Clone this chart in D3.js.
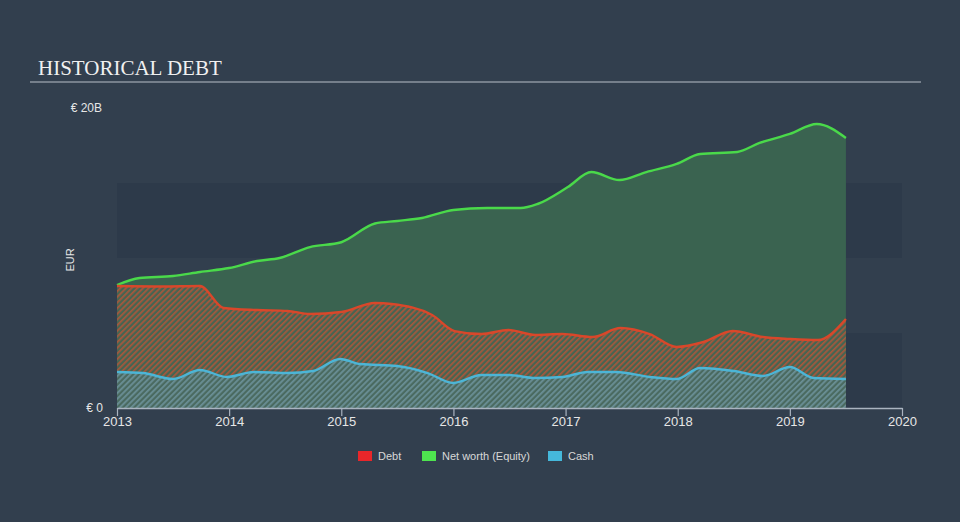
<!DOCTYPE html>
<html><head><meta charset="utf-8">
<script src="https://cdnjs.cloudflare.com/ajax/libs/d3/7.8.5/d3.min.js"></script>
<style>
html,body{margin:0;padding:0;background:#323f4e;}
svg{display:block;}
</style></head>
<body>
<svg id="chart" width="960" height="522"></svg>
<script>
// ---- data (EUR billions) ----
const equityDates = [2013.00,2013.20,2013.50,2013.74,2014.00,2014.25,2014.45,2014.72,2015.00,2015.30,2015.50,2015.72,2016.00,2016.30,2016.60,2016.75,2017.02,2017.23,2017.48,2017.72,2017.99,2018.20,2018.53,2018.73,2019.00,2019.24,2019.50];
const equityValues = [8.2,8.67,8.8,9.07,9.33,9.8,10.0,10.73,11.05,12.3,12.47,12.67,13.2,13.33,13.33,13.6,14.73,15.73,15.2,15.73,16.27,16.93,17.07,17.67,18.27,18.93,18.0];

const debtDates = [2013.00,2013.40,2013.74,2013.95,2014.25,2014.52,2014.72,2015.00,2015.30,2015.45,2015.81,2016.01,2016.25,2016.49,2016.73,2016.97,2017.24,2017.49,2017.75,2017.99,2018.23,2018.49,2018.76,2019.00,2019.25,2019.50];
const debtValues = [8.13,8.1,8.13,6.67,6.53,6.47,6.27,6.4,7.0,6.93,6.2,5.13,4.93,5.2,4.87,4.93,4.73,5.33,4.93,4.07,4.4,5.13,4.73,4.6,4.53,5.93];

const cashDates = [2013.00,2013.23,2013.50,2013.74,2013.98,2014.22,2014.52,2014.75,2014.99,2015.17,2015.50,2015.77,2016.00,2016.25,2016.49,2016.73,2016.97,2017.20,2017.45,2017.75,2017.99,2018.20,2018.50,2018.76,2019.00,2019.21,2019.50];
const cashValues = [2.4,2.33,1.93,2.53,2.07,2.4,2.33,2.47,3.27,2.93,2.8,2.33,1.67,2.2,2.2,2.0,2.07,2.4,2.4,2.07,1.93,2.67,2.47,2.13,2.73,2.0,1.93];

const xTickValues = [2013,2014,2015,2016,2017,2018,2019,2020];
const yBands = [[0,5],[10,15]];
const legendLabels = ["Debt","Net worth (Equity)","Cash"];
const legendColors = ["#e8262a","#4ee44f","#45b8db"];

// ---- layout ----
const svg = d3.select("#chart");
const x = d3.scaleLinear().domain([2013,2020]).range([117,902]);
const y = d3.scaleLinear().domain([0,20]).range([408,108]);

const defs = svg.append("defs");
const debtPat = defs.append("pattern").attr("id","hatchDebt")
  .attr("patternUnits","userSpaceOnUse").attr("width",4).attr("height",4)
  .attr("patternTransform","rotate(-45)");
debtPat.append("rect").attr("width",4).attr("height",4).attr("fill","#456552");
debtPat.append("rect").attr("width",4).attr("height",1.7).attr("fill","#a9573c");

const cashPat = defs.append("pattern").attr("id","hatchCash")
  .attr("patternUnits","userSpaceOnUse").attr("width",4).attr("height",4)
  .attr("patternTransform","rotate(-45)");
cashPat.append("rect").attr("width",4).attr("height",4).attr("fill","#4a6a60");
cashPat.append("rect").attr("width",4).attr("height",1.8).attr("fill","#6a8f96");

// bands
svg.append("g").selectAll("rect").data(yBands).join("rect")
  .attr("x",x(2013)).attr("width",x(2020)-x(2013))
  .attr("y",d=>y(d[1])).attr("height",d=>y(d[0])-y(d[1]))
  .attr("fill","#2d3a4a");

// title
svg.append("text").attr("x",38).attr("y",75)
  .attr("font-family","'Liberation Serif','DejaVu Serif',serif")
  .attr("font-size",21).attr("fill","#f0f0f0").text("HISTORICAL DEBT");
svg.append("line").attr("x1",30).attr("x2",921).attr("y1",82).attr("y2",82)
  .attr("stroke","#b8c0c8").attr("stroke-width",1.2);

const curve = d3.curveMonotoneX;
function series(dates, vals){ return dates.map((d,i)=>({d, v: vals[i]})); }
const eq = series(equityDates, equityValues);
const db = series(debtDates, debtValues);
const ca = series(cashDates, cashValues);

const area = d3.area().curve(curve).x(p=>x(p.d)).y0(y(0)).y1(p=>y(p.v));
const line = d3.line().curve(curve).x(p=>x(p.d)).y(p=>y(p.v));

svg.append("path").datum(eq).attr("d",area).attr("fill","#3a6350");
svg.append("path").datum(db).attr("d",area).attr("fill","url(#hatchDebt)");
svg.append("path").datum(ca).attr("d",area).attr("fill","url(#hatchCash)");

svg.append("path").datum(eq).attr("d",line).attr("fill","none").attr("stroke","#4ad94a").attr("stroke-width",2.4);
svg.append("path").datum(db).attr("d",line).attr("fill","none").attr("stroke","#d9472a").attr("stroke-width",2.4);
svg.append("path").datum(ca).attr("d",line).attr("fill","none").attr("stroke","#4cb5d6").attr("stroke-width",2.4);

// x axis
const xAxis = d3.axisBottom(x).tickValues(xTickValues).tickFormat(d3.format("d")).tickSize(8).tickSizeOuter(0);
const gx = svg.append("g").attr("transform",`translate(0,${y(0)})`).call(xAxis);
gx.select(".domain").attr("stroke","#aab4c0").attr("stroke-width",1.5);
gx.selectAll(".tick line").attr("stroke","#aab4c0").attr("stroke-width",1.2);
gx.selectAll(".tick text").attr("fill","#e6e6e6").attr("font-size",13)
  .attr("font-family","'Liberation Sans',Arial,sans-serif").attr("y",9).attr("dy","0.71em");

// y labels
const yLabels = [{v:20,t:"€ 20B"},{v:0,t:"€ 0"}];
svg.append("g").selectAll("text").data(yLabels).join("text")
  .attr("x",d=>d.v===20?102:103).attr("y",d=>y(d.v)).attr("dy","0.35em")
  .attr("text-anchor","end").attr("fill","#e6e6e6").attr("font-size",12)
  .attr("font-family","'Liberation Sans',Arial,sans-serif").text(d=>d.t);
svg.append("text").attr("transform","translate(74,260) rotate(-90)")
  .attr("text-anchor","middle").attr("fill","#e6e6e6").attr("font-size",11)
  .attr("font-family","'Liberation Sans',Arial,sans-serif").text("EUR");

// legend
const legX = [358,422,548];
const lg = svg.append("g").selectAll("g").data(legendLabels).join("g")
  .attr("transform",(d,i)=>`translate(${legX[i]},451)`);
lg.append("rect").attr("width",14).attr("height",10).attr("fill",(d,i)=>legendColors[i]);
lg.append("text").attr("x",20).attr("y",5).attr("dy","0.35em")
  .attr("fill","#d8d8d8").attr("font-size",11)
  .attr("font-family","'Liberation Sans',Arial,sans-serif").text(d=>d);
</script>
</body></html>
